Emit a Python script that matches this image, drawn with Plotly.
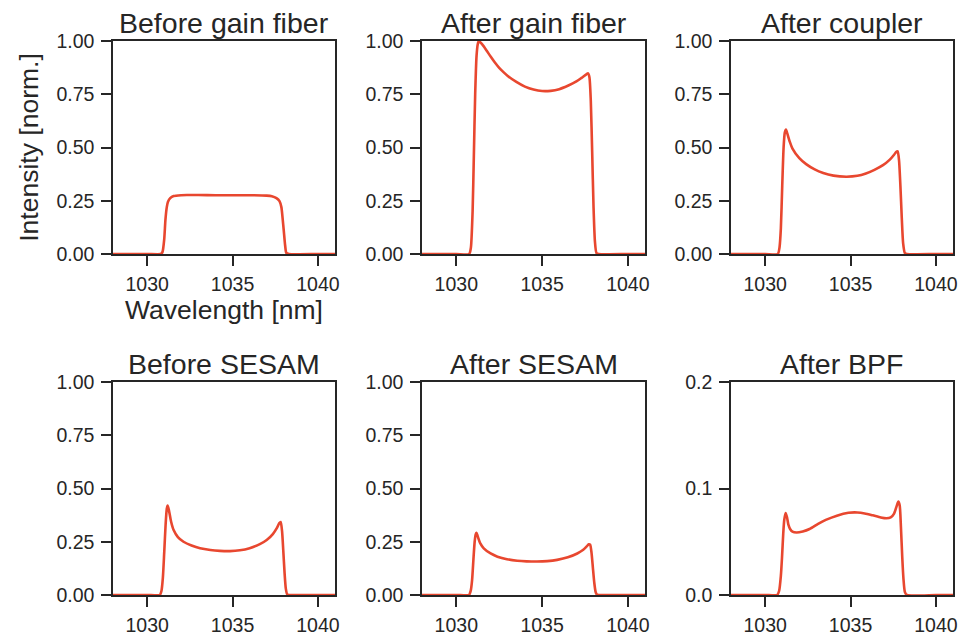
import plotly.graph_objects as go

titles = ["Before gain fiber", "After gain fiber", "After coupler",
          "Before SESAM", "After SESAM", "After BPF"]

x1 = [1028.0, 1030.0, 1030.8, 1030.9, 1031.0, 1031.07, 1031.15, 1031.22, 1031.35, 1031.55, 1032.0, 1032.33, 1033.0, 1034.0, 1035.0, 1036.0, 1037.0, 1037.3, 1037.57, 1037.75, 1037.86, 1037.93, 1038.0, 1038.08, 1038.15, 1038.3, 1040.0, 1041.0]
y1 = [0.0, 0.0, 0.0, 0.01, 0.07, 0.16, 0.22, 0.245, 0.262, 0.272, 0.276, 0.277, 0.277, 0.276, 0.276, 0.276, 0.274, 0.271, 0.262, 0.248, 0.22, 0.17, 0.11, 0.04, 0.005, 0.0, 0.0, 0.0]

x2 = [1028.0, 1030.0, 1030.75, 1030.85, 1030.95, 1031.02, 1031.1, 1031.18, 1031.25, 1031.31, 1031.5, 1031.75, 1032.0, 1032.25, 1032.5, 1032.75, 1033.0, 1033.5, 1034.0, 1034.5, 1035.0, 1035.5, 1036.0, 1036.5, 1037.0, 1037.3, 1037.6, 1037.68, 1037.76, 1037.84, 1037.92, 1038.0, 1038.08, 1038.17, 1038.3, 1040.0, 1041.0]
y2 = [0.0, 0.0, 0.0, 0.03, 0.2, 0.45, 0.75, 0.93, 0.985, 1.0, 0.985, 0.957, 0.927, 0.899, 0.874, 0.854, 0.836, 0.808, 0.786, 0.772, 0.765, 0.766, 0.774, 0.79, 0.81, 0.827, 0.845, 0.848, 0.83, 0.72, 0.48, 0.22, 0.06, 0.005, 0.0, 0.0, 0.0]

x3 = [1028.0, 1030.0, 1030.74, 1030.84, 1030.92, 1031.0, 1031.08, 1031.15, 1031.22, 1031.3, 1031.45, 1031.6, 1032.0, 1032.4, 1032.9, 1033.4, 1034.0, 1034.75, 1035.4, 1035.9, 1036.4, 1036.9, 1037.3, 1037.55, 1037.68, 1037.76, 1037.84, 1037.92, 1038.0, 1038.08, 1038.18, 1038.3, 1040.0, 1041.0]
y3 = [0.0, 0.0, 0.0, 0.03, 0.12, 0.32, 0.5, 0.57, 0.584, 0.565, 0.525, 0.495, 0.45, 0.422, 0.397, 0.38, 0.368, 0.363, 0.367, 0.378, 0.395, 0.417, 0.443, 0.466, 0.48, 0.482, 0.44, 0.32, 0.17, 0.05, 0.005, 0.0, 0.0, 0.0]

x4 = [1028.0, 1030.0, 1030.74, 1030.84, 1030.92, 1031.0, 1031.08, 1031.15, 1031.2, 1031.27, 1031.4, 1031.55, 1031.8, 1032.13, 1032.6, 1033.1, 1033.7, 1034.26, 1034.85, 1035.43, 1036.0, 1036.6, 1037.0, 1037.36, 1037.6, 1037.74, 1037.82, 1037.9, 1037.97, 1038.05, 1038.12, 1038.2, 1038.3, 1040.0, 1041.0]
y4 = [0.0, 0.0, 0.0, 0.02, 0.08, 0.2, 0.33, 0.405, 0.42, 0.4, 0.345, 0.305, 0.272, 0.25, 0.232, 0.219, 0.211, 0.207, 0.206, 0.21, 0.22, 0.239, 0.258, 0.286, 0.315, 0.338, 0.343, 0.3, 0.21, 0.1, 0.03, 0.003, 0.0, 0.0, 0.0]

x5 = [1028.0, 1030.0, 1030.74, 1030.84, 1030.92, 1031.0, 1031.07, 1031.13, 1031.18, 1031.25, 1031.4, 1031.6, 1032.0, 1032.4, 1032.95, 1033.55, 1034.1, 1034.7, 1035.3, 1035.88, 1036.5, 1037.05, 1037.4, 1037.6, 1037.72, 1037.8, 1037.88, 1037.96, 1038.04, 1038.12, 1038.2, 1038.3, 1040.0, 1041.0]
y5 = [0.0, 0.0, 0.0, 0.02, 0.07, 0.17, 0.25, 0.285, 0.292, 0.275, 0.242, 0.219, 0.195, 0.18, 0.168, 0.161, 0.158, 0.157, 0.159, 0.165, 0.177, 0.195, 0.212, 0.228, 0.238, 0.236, 0.2, 0.13, 0.06, 0.015, 0.002, 0.0, 0.0, 0.0]

x6 = [1028.0, 1030.0, 1030.7, 1030.82, 1030.92, 1030.99, 1031.06, 1031.12, 1031.2, 1031.28, 1031.36, 1031.46, 1031.6, 1031.84, 1032.2, 1032.6, 1033.1, 1033.55, 1034.2, 1034.88, 1035.4, 1035.83, 1036.3, 1036.77, 1037.1, 1037.35, 1037.55, 1037.7, 1037.8, 1037.88, 1037.95, 1038.03, 1038.1, 1038.18, 1038.3, 1040.0, 1041.0]
y6 = [0.0, 0.0, 0.0, 0.004, 0.018, 0.036, 0.058, 0.0707, 0.077, 0.073, 0.066, 0.062, 0.0595, 0.0587, 0.0597, 0.062, 0.0668, 0.0705, 0.0745, 0.0772, 0.0775, 0.0766, 0.0748, 0.0728, 0.072, 0.0728, 0.0765, 0.0835, 0.0877, 0.084, 0.064, 0.035, 0.015, 0.003, 0.0, 0.0, 0.0]

xs = [x1, x2, x3, x4, x5, x6]
ys = [y1, y2, y3, y4, y5, y6]

x_range = [1028.0, 1041.0]
x_ticks = [1030, 1035, 1040]
y_ticks_main = [0.0, 0.25, 0.5, 0.75, 1.0]
y_ticktext_main = ["0.00", "0.25", "0.50", "0.75", "1.00"]
y_ticks_bpf = [0.0, 0.1, 0.2]
y_ticktext_bpf = ["0.0", "0.1", "0.2"]

W, H = 963, 639
col_px = [(113, 335), (422, 645), (731, 953)]
row_px = [(41, 254), (382, 595)]

LINE = "#e8472f"
AX = "#262626"
FONT = "Liberation Sans, Arial, sans-serif"

fig = go.Figure()
for i in range(6):
    r, c = divmod(i, 3)
    n = "" if i == 0 else str(i + 1)
    fig.add_trace(go.Scatter(x=xs[i], y=ys[i], mode="lines",
                             line=dict(color=LINE, width=2.6, shape="spline", smoothing=0.6),
                             xaxis="x" + n, yaxis="y" + n, showlegend=False, hoverinfo="skip"))
    x0, x1p = col_px[c]
    t0, b0 = row_px[r]
    common = dict(showline=True, linecolor=AX, linewidth=1.5, mirror=True,
                  ticks="outside", ticklen=10, tickwidth=1.5, tickcolor=AX,
                  showgrid=False, zeroline=False, automargin=False,
                  tickfont=dict(family=FONT, size=19.5, color=AX))
    xa = dict(common, domain=[x0 / W, x1p / W], range=x_range, tickvals=x_ticks,
              anchor="y" + n, ticklabelstandoff=2)
    if i == 5:
        ya = dict(common, domain=[1 - b0 / H, 1 - t0 / H], range=[0, 0.2],
                  tickvals=y_ticks_bpf, ticktext=y_ticktext_bpf, anchor="x" + n,
                  ticklabelstandoff=3)
    else:
        ya = dict(common, domain=[1 - b0 / H, 1 - t0 / H], range=[0, 1.0],
                  tickvals=y_ticks_main, ticktext=y_ticktext_main, anchor="x" + n,
                  ticklabelstandoff=3)
    if i == 0:
        xa["title"] = dict(text="Wavelength [nm]", font=dict(family=FONT, size=26.5, color=AX), standoff=2)
        ya["title"] = dict(text="Intensity [norm.]", font=dict(family=FONT, size=26.5, color=AX), standoff=10)
    fig.layout["xaxis" + n] = xa
    fig.layout["yaxis" + n] = ya
    fig.add_annotation(text=titles[i], xref="paper", yref="paper",
                       x=(x0 + x1p) / 2 / W, y=1 - t0 / H,
                       xanchor="center", yanchor="bottom", showarrow=False,
                       font=dict(family=FONT, size=28.5, color=AX))

fig.update_layout(width=W, height=H, margin=dict(l=0, r=0, t=0, b=0),
                  plot_bgcolor="white", paper_bgcolor="white")
fig.write_html("out.html")
